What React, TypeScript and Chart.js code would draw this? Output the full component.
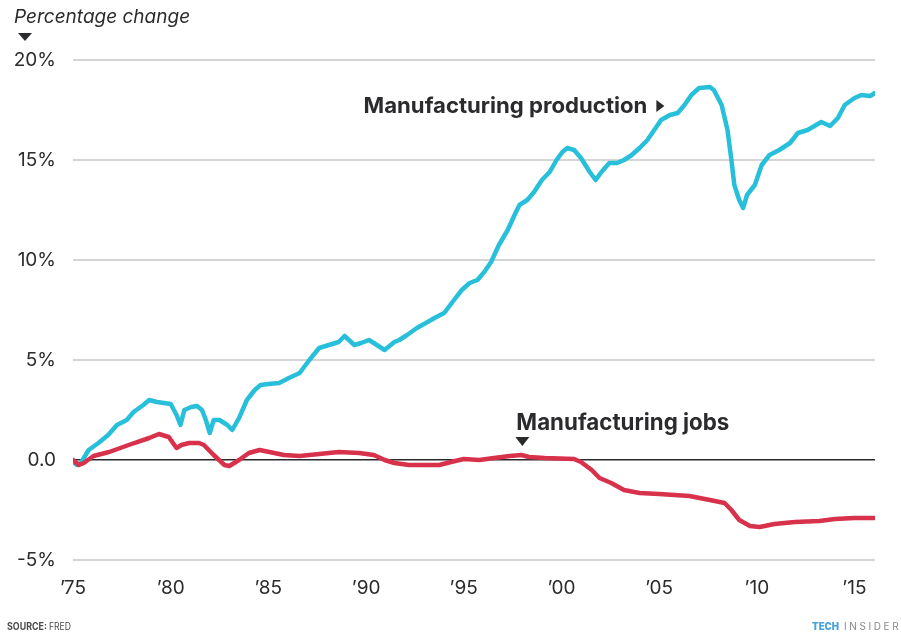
import React, { useEffect, useRef } from "react";
import { Chart, registerables } from "chart.js";

Chart.register(...registerables);

const tickYears = [1975, 1980, 1985, 1990, 1995, 2000, 2005, 2010, 2015];
const tickValues = [-5, 0, 5, 10, 15, 20];

const productionYears = [
  1975.0, 1975.2, 1975.4, 1975.8, 1976.3, 1976.8, 1977.25, 1977.75, 1978.1, 1978.6,
  1978.9, 1979.3, 1979.65, 1980.0, 1980.3, 1980.5, 1980.7, 1981.05, 1981.35, 1981.6,
  1981.8, 1982.0, 1982.2, 1982.5, 1982.9, 1983.15, 1983.5, 1983.9, 1984.3, 1984.6,
  1985.0, 1985.55, 1986.05, 1986.6, 1987.1, 1987.6, 1988.1, 1988.6, 1988.9, 1989.4,
  1989.75, 1990.15, 1990.55, 1990.95, 1991.45, 1991.7, 1992.1, 1992.6, 1993.15, 1993.5,
  1994.0, 1994.5, 1994.9, 1995.3, 1995.7, 1996.05, 1996.4, 1996.8, 1997.25, 1997.6,
  1997.85, 1998.25, 1998.6, 1999.0, 1999.4, 1999.75, 2000.05, 2000.3, 2000.65, 2001.0,
  2001.45, 2001.75, 2002.05, 2002.45, 2002.85, 2003.2, 2003.6, 2004.0, 2004.4, 2004.75,
  2005.1, 2005.55, 2005.95, 2006.3, 2006.65, 2007.05, 2007.6, 2007.8, 2008.2, 2008.5,
  2008.7, 2008.85, 2009.1, 2009.3, 2009.5, 2009.9, 2010.25, 2010.65, 2011.15, 2011.7,
  2012.1, 2012.6, 2012.95, 2013.3, 2013.75, 2014.15, 2014.5, 2015.0, 2015.35, 2015.8,
  2016.05,
];
const productionValues = [
  -0.1, -0.25, -0.15, 0.5, 0.85, 1.25, 1.75, 2.0, 2.4, 2.75,
  3.0, 2.9, 2.85, 2.8, 2.25, 1.75, 2.5, 2.65, 2.7, 2.5,
  2.0, 1.35, 2.0, 2.0, 1.75, 1.5, 2.1, 3.0, 3.5, 3.75,
  3.8, 3.85, 4.1, 4.35, 5.0, 5.6, 5.75, 5.9, 6.2, 5.75,
  5.85, 6.0, 5.75, 5.5, 5.9, 6.0, 6.25, 6.6, 6.9, 7.1,
  7.35, 8.0, 8.5, 8.85, 9.0, 9.4, 9.9, 10.75, 11.5, 12.25,
  12.75, 13.0, 13.4, 14.0, 14.4, 15.0, 15.4, 15.6, 15.5, 15.1,
  14.4, 14.0, 14.4, 14.85, 14.85, 15.0, 15.25, 15.6, 16.0, 16.5,
  17.0, 17.25, 17.35, 17.75, 18.25, 18.6, 18.65, 18.5, 17.75, 16.5,
  15.0, 13.75, 13.0, 12.6, 13.25, 13.75, 14.75, 15.25, 15.5, 15.85,
  16.35, 16.5, 16.7, 16.9, 16.7, 17.1, 17.75, 18.1, 18.25, 18.2,
  18.35,
];

const jobsYears = [
  1975.0, 1975.3, 1975.55, 1976.05, 1976.85, 1977.85, 1978.9, 1979.4, 1979.9, 1980.3,
  1980.55, 1980.95, 1981.45, 1981.7, 1982.2, 1982.75, 1983.0, 1983.5, 1984.0, 1984.55,
  1985.05, 1985.8, 1986.6, 1987.6, 1988.6, 1989.65, 1990.4, 1990.95, 1991.45, 1992.2,
  1993.75, 1994.35, 1995.0, 1995.8, 1996.55, 1997.35, 1997.95, 1998.35, 1999.15, 2000.65,
  2001.0, 2001.55, 2001.95, 2002.55, 2003.2, 2004.0, 2005.0, 2006.55, 2007.6, 2008.35,
  2008.7, 2009.1, 2009.65, 2010.15, 2010.9, 2011.95, 2013.2, 2014.0, 2015.0, 2016.05,
];
const jobsValues = [
  0.0, -0.25, -0.15, 0.2, 0.4, 0.75, 1.1, 1.3, 1.15, 0.6,
  0.75, 0.85, 0.85, 0.75, 0.25, -0.25, -0.3, 0.0, 0.35, 0.5,
  0.4, 0.25, 0.2, 0.3, 0.4, 0.35, 0.25, 0.0, -0.15, -0.25,
  -0.25, -0.1, 0.05, 0.0, 0.1, 0.2, 0.25, 0.15, 0.1, 0.05,
  -0.1, -0.5, -0.9, -1.15, -1.5, -1.65, -1.7, -1.8, -2.0, -2.15,
  -2.5, -3.0, -3.3, -3.35, -3.2, -3.1, -3.05, -2.95, -2.9, -2.9,
];

const BLUE = "#27bfd9";
const RED = "#d8314b";
const TEXT = "#2b2b2e";
const FONT = "Inter, 'Noto Sans', sans-serif";

const yearLabel = (v: number) => "\u2019" + String(v).slice(2);
const pctLabel = (v: number) => (v === 0 ? "0.0" : v + "%");

// pick a font size so that text spans the wanted width
function fitFont(ctx: CanvasRenderingContext2D, text: string, width: number, style: string) {
  ctx.font = `${style} 20px ${FONT}`;
  const w = ctx.measureText(text).width;
  const size = (20 * width) / w;
  ctx.font = `${style} ${size.toFixed(2)}px ${FONT}`;
}

const annotationPlugin = {
  id: "annotations",
  afterDraw(chart: any) {
    const ctx = chart.ctx as CanvasRenderingContext2D;
    const x = chart.scales.x;
    const y = chart.scales.y;
    ctx.save();
    ctx.fillStyle = TEXT;
    ctx.textBaseline = "middle";

    // axis title
    ctx.font = `italic 19px ${FONT}`;
    ctx.textAlign = "left";
    ctx.fillText("Percentage change", 14, 17);
    ctx.beginPath();
    ctx.moveTo(18, 33);
    ctx.lineTo(32, 33);
    ctx.lineTo(25, 41);
    ctx.closePath();
    ctx.fill();

    // Manufacturing production label
    fitFont(ctx, "Manufacturing production", 284, "bold");
    ctx.textAlign = "right";
    const px = x.getPixelForValue(2004.4);
    const py = y.getPixelForValue(17.7);
    ctx.fillText("Manufacturing production", px, py);
    ctx.beginPath();
    ctx.moveTo(px + 9, py - 6);
    ctx.lineTo(px + 17, py);
    ctx.lineTo(px + 9, py + 6);
    ctx.closePath();
    ctx.fill();

    // Manufacturing jobs label
    const jx = x.getPixelForValue(1998.0);
    const jy = y.getPixelForValue(0.7);
    ctx.beginPath();
    ctx.moveTo(jx - 7, jy - 9);
    ctx.lineTo(jx + 7, jy - 9);
    ctx.lineTo(jx, jy);
    ctx.closePath();
    ctx.fill();
    fitFont(ctx, "Manufacturing jobs", 213, "bold");
    ctx.textAlign = "left";
    ctx.fillText("Manufacturing jobs", jx - 6, jy - 23);

    // source
    ctx.textBaseline = "alphabetic";
    ctx.fillStyle = "#4a4a4a";
    ctx.font = `bold 10px ${FONT}`;
    ctx.fillText("SOURCE:", 7, 630, 40);
    ctx.font = `10px ${FONT}`;
    ctx.fillText("FRED", 49, 630, 22);

    // brand
    ctx.fillStyle = "#4aa3dc";
    ctx.font = `900 10px ${FONT}`;
    ctx.fillText("TECH", 812, 630, 27);
    ctx.fillStyle = "#8a8a8a";
    ctx.font = `10px ${FONT}`;
    let cx = 844;
    for (const ch of "INSIDER") {
      ctx.fillText(ch, cx, 630);
      cx += ctx.measureText(ch).width + 2.6;
    }
    ctx.restore();
  },
};

export default function App() {
  const ref = useRef<HTMLCanvasElement>(null);

  useEffect(() => {
    if (!ref.current) return;
    const chart = new Chart(ref.current, {
      type: "line",
      data: {
        datasets: [
          {
            label: "Manufacturing jobs",
            data: jobsYears.map((yr, i) => ({ x: yr, y: jobsValues[i] })),
            borderColor: RED,
            borderWidth: 4.5,
            pointRadius: 0,
            tension: 0,
            borderJoinStyle: "round",
            borderCapStyle: "round",
            order: 0,
          },
          {
            label: "Manufacturing production",
            data: productionYears.map((yr, i) => ({ x: yr, y: productionValues[i] })),
            borderColor: BLUE,
            borderWidth: 4.5,
            pointRadius: 0,
            tension: 0,
            borderJoinStyle: "round",
            borderCapStyle: "round",
            order: 1,
          },
        ],
      },
      options: {
        animation: false,
        responsive: false,
        maintainAspectRatio: false,
        layout: { padding: { left: 0, right: 26, top: 60, bottom: 0 } },
        plugins: {
          legend: { display: false },
          tooltip: { enabled: false },
        },
        scales: {
          x: {
            type: "linear",
            min: 1975,
            max: 2016.05,
            afterBuildTicks: (s: any) => {
              s.ticks = tickYears.map((v) => ({ value: v }));
            },
            afterFit: (s: any) => {
              s.height = 74;
            },
            ticks: {
              callback: (v: any) => yearLabel(Number(v)),
              color: TEXT,
              font: { family: FONT, size: 19 },
              padding: 17,
              maxRotation: 0,
              autoSkip: false,
            },
            grid: { display: false, drawTicks: false },
            border: { display: false },
          },
          y: {
            type: "linear",
            min: -5,
            max: 20,
            afterBuildTicks: (s: any) => {
              s.ticks = tickValues.map((v) => ({ value: v }));
            },
            afterFit: (s: any) => {
              s.width = 73;
            },
            ticks: {
              callback: (v: any) => pctLabel(Number(v)),
              color: TEXT,
              font: { family: FONT, size: 19 },
              padding: 17,
            },
            grid: {
              drawTicks: false,
              color: (c: any) => (c.tick && c.tick.value === 0 ? "#2a2a2a" : "#d4d4d4"),
              lineWidth: (c: any) => (c.tick && c.tick.value === 0 ? 1.5 : 2),
            },
            border: { display: false },
          },
        },
      },
      plugins: [annotationPlugin],
    });
    return () => chart.destroy();
  }, []);

  return (
    <div style={{ position: "fixed", left: 0, top: 0, width: 901, height: 634, background: "#fff" }}>
      <canvas ref={ref} width={901} height={634} style={{ width: 901, height: 634 }} />
    </div>
  );
}
